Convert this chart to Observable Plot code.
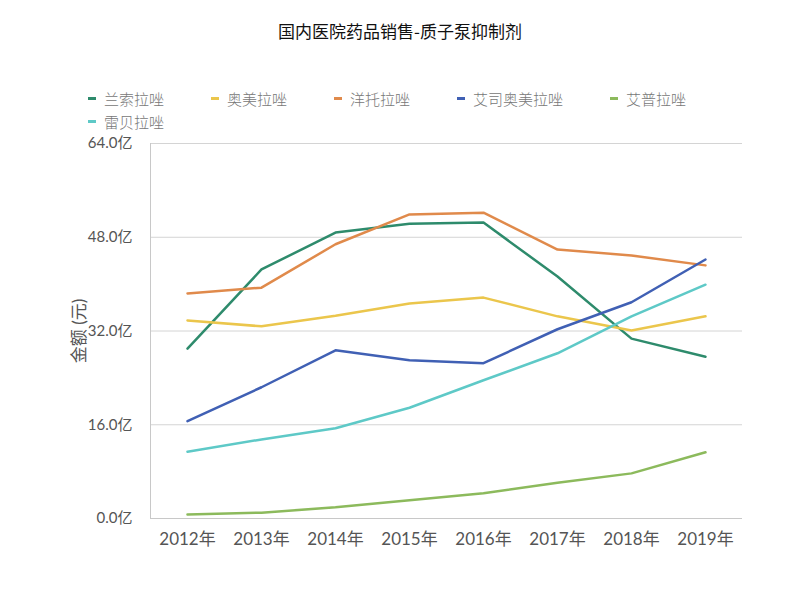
<!DOCTYPE html>
<html><head><meta charset="utf-8">
<script src="https://cdn.jsdelivr.net/npm/d3@7"></script>
<script src="https://cdn.jsdelivr.net/npm/@observablehq/plot@0.6"></script>
<style>
body{margin:0;background:#fff;font-family:"Lato","Noto Sans CJK SC",sans-serif;}
#wrap{position:relative;width:800px;height:599px;}
#title{position:absolute;top:18px;left:0;width:800px;text-align:center;font-size:17px;color:#111;font-family:"Noto Sans CJK SC",sans-serif;}
#legend{position:absolute;left:88px;top:88px;width:660px;display:flex;flex-wrap:wrap;column-gap:47px;row-gap:2px;font-size:15px;color:#777;font-family:"Noto Sans CJK SC",sans-serif;font-weight:300;}
.item{display:flex;align-items:center;height:21px;}
.sw{width:8px;height:3px;margin-right:8px;}
#chart{position:absolute;left:0;top:130px;}
</style></head>
<body><div id="wrap"><div id="title">国内医院药品销售-质子泵抑制剂</div><div id="legend"></div><div id="chart"></div></div>
<script>
const years = ["2012年","2013年","2014年","2015年","2016年","2017年","2018年","2019年"];
const seriesNames = ["兰索拉唑","奥美拉唑","洋托拉唑","艾司奥美拉唑","艾普拉唑","雷贝拉唑"];
const colors = ["#2e8b6c","#ebc64c","#e08a4b","#4060b4","#8cba5c","#5ec9c7"];
const lansoprazole = [29.0,42.5,48.8,50.3,50.5,41.3,30.7,27.6];
const omeprazole = [33.8,32.8,34.6,36.7,37.7,34.5,32.1,34.5];
const pantoprazole = [38.4,39.4,46.8,51.9,52.2,45.9,44.9,43.2];
const esomeprazole = [16.6,22.4,28.7,27.0,26.5,32.3,36.9,44.2];
const ilaprazole = [0.7,1.0,1.9,3.1,4.3,6.1,7.7,11.3];
const rabeprazole = [11.4,13.5,15.4,18.9,23.6,28.2,34.5,39.9];
const yTicks = [0,16,32,48,64];
const yTickLabels = ["0.0亿","16.0亿","32.0亿","48.0亿","64.0亿"];

const allSeries = [lansoprazole,omeprazole,pantoprazole,esomeprazole,ilaprazole,rabeprazole];
const rows = [];
allSeries.forEach((vals,si)=>vals.forEach((v,i)=>rows.push({year:years[i],value:v,series:seriesNames[si]})));

const leg = document.getElementById("legend");
seriesNames.forEach((n,i)=>{
  const d=document.createElement("div");d.className="item";
  d.innerHTML=`<span class="sw" style="background:${colors[i]}"></span><span>${n}</span>`;
  leg.appendChild(d);
});

const chart = Plot.plot({
  width:800,height:437,
  marginTop:13,marginBottom:49,marginLeft:150,marginRight:58,
  style:{fontFamily:"Lato, 'Noto Sans CJK SC', sans-serif",fontSize:"15px",color:"#555",background:"transparent"},
  x:{type:"point",domain:years,padding:0.5},
  y:{domain:[0,64]},
  color:{domain:seriesNames,range:colors},
  marks:[
    Plot.gridY(yTicks,{stroke:"#d4d4d4",strokeOpacity:1,strokeWidth:1}),
    Plot.frame({anchor:"left",stroke:"#c8c8c8"}),
    Plot.ruleY([0],{stroke:"#c8c8c8"}),
    Plot.axisY({ticks:yTicks,tickFormat:(d)=>yTickLabels[yTicks.indexOf(d)],tickSize:0,tickPadding:18,label:"金额 (元)",labelAnchor:"center",labelOffset:78,labelArrow:"none",fontSize:15}),
    Plot.axisX({tickSize:0,tickPadding:14,label:null,fontSize:17}),
    Plot.line(rows,{x:"year",y:"value",stroke:"series",z:"series",strokeWidth:2.5,curve:"linear"})
  ]
});
chart.querySelectorAll("text").forEach(t=>{ if(t.textContent.includes("金额")){ t.setAttribute("font-size","17"); t.style.fontSize="17px"; } });
document.getElementById("chart").appendChild(chart);
</script></body></html>
